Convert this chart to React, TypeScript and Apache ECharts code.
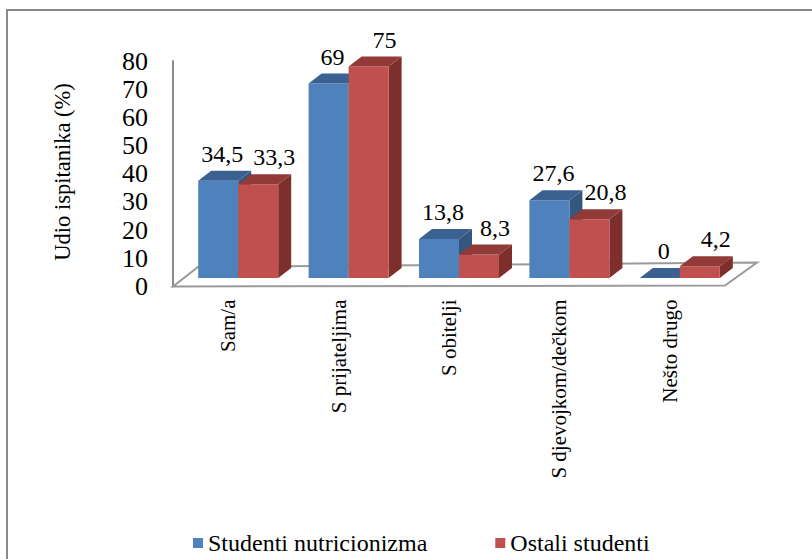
import React, { useEffect, useRef } from "react";
import * as echarts from "echarts";

const categories = ["Sam/a", "S prijateljima", "S obitelji", "S djevojkom/dečkom", "Nešto drugo"];
const nutritionStudents = [34.5, 69, 13.8, 27.6, 0];
const otherStudents = [33.3, 75, 8.3, 20.8, 4.2];
const seriesNames = ["Studenti nutricionizma", "Ostali studenti"];
const yAxisTitle = "Udio ispitanika (%)";
const yMin = 0;
const yMax = 80;
const yInterval = 10;

const FONT = "Liberation Serif";

const palettes = [
  { front: "#4F81BD", top: "#3B6190", side: "#35567F" },
  { front: "#C0504D", top: "#913A38", side: "#7C2F2D" },
];

// 3D projection constants (styling only)
const SHIFT_X = 10;
const SHIFT_Y = -8.5;
const DEPTH_X = 13;
const DEPTH_Y = -10;
const BAR_W = 40;
const LABEL_DX = [4, 16];
const LABEL_DY = -27;

function fmt(v: number) {
  return String(v).replace(".", ",");
}

function makeBarRender(sideIdx: number) {
  const pal = palettes[sideIdx];
  return (params: any, api: any) => {
    const idx = api.value(0);
    const val = api.value(1);
    const base = api.coord([idx, 0]);
    const top = api.coord([idx, val]);
    const xl = base[0] + SHIFT_X + (sideIdx === 0 ? -BAR_W : 0);
    const xr = xl + BAR_W;
    const yb = base[1] + SHIFT_Y;
    const yt = top[1] + SHIFT_Y;
    const children: any[] = [];
    children.push({
      type: "polygon",
      shape: {
        points: [
          [xr, yt],
          [xr + DEPTH_X, yt + DEPTH_Y],
          [xr + DEPTH_X, yb + DEPTH_Y],
          [xr, yb],
        ],
      },
      style: { fill: pal.side },
    });
    if (yb - yt > 0.01) {
      children.push({
        type: "rect",
        shape: { x: xl, y: yt, width: BAR_W, height: yb - yt },
        style: { fill: pal.front },
      });
    }
    children.push({
      type: "polygon",
      shape: {
        points: [
          [xl, yt],
          [xl + DEPTH_X, yt + DEPTH_Y],
          [xr + DEPTH_X, yt + DEPTH_Y],
          [xr, yt],
        ],
      },
      style: { fill: pal.top },
    });
    children.push({
      type: "text",
      x: xl + BAR_W / 2 + LABEL_DX[sideIdx],
      y: yt + LABEL_DY,
      style: {
        text: fmt(val),
        fill: "#000",
        fontFamily: FONT,
        fontSize: 24,
        align: "center",
        verticalAlign: "middle",
      },
    });
    return { type: "group", children };
  };
}

function floorRender(params: any, api: any) {
  const band = api.size([1, 0])[0];
  const c0 = api.coord([0, 0]);
  const cN = api.coord([categories.length - 1, 0]);
  const fl = [c0[0] - band / 2, c0[1]];
  const fr = [cN[0] + band / 2, cN[1] - 1];
  const bl = [fl[0] + 25, fl[1] - 19.5];
  const br = [fr[0] + 32, fr[1] - 23];
  return {
    type: "polygon",
    shape: { points: [fl, fr, br, bl] },
    style: { fill: "#fff", stroke: "#9a9a9a", lineWidth: 2 },
  };
}

export default function App() {
  const ref = useRef<HTMLDivElement>(null);
  useEffect(() => {
    if (!ref.current) return;
    const chart = echarts.init(ref.current, null, { renderer: "svg" });
    const option: any = {
      animation: false,
      backgroundColor: "#fff",
      textStyle: { fontFamily: FONT },
      grid: { left: 173, top: 61, width: 552, height: 225.5, containLabel: false },
      legend: {
        data: seriesNames,
        left: 188,
        top: 526,
        icon: "rect",
        itemWidth: 10,
        itemHeight: 10,
        itemGap: 68,
        textStyle: { fontFamily: FONT, fontSize: 24, color: "#000" },
      },
      xAxis: {
        type: "category",
        data: categories,
        boundaryGap: true,
        axisLine: { show: false },
        axisTick: { show: false },
        axisLabel: {
          rotate: 90,
          margin: 13,
          fontFamily: FONT,
          fontSize: 21,
          color: "#000",
          interval: 0,
        },
      },
      yAxis: {
        type: "value",
        min: yMin,
        max: yMax,
        interval: yInterval,
        splitLine: { show: false },
        axisTick: { show: false },
        axisLine: { show: true, lineStyle: { color: "#8c8c8c", width: 2 } },
        axisLabel: { fontFamily: FONT, fontSize: 26, color: "#000", margin: 25 },
      },
      graphic: [
        {
          type: "rect",
          shape: { x: 7, y: 10, width: 900, height: 700 },
          style: { fill: "none", stroke: "#8a8a8a", lineWidth: 2 },
          silent: true,
        },
        {
          type: "text",
          x: 62.5,
          y: 172,
          rotation: Math.PI / 2,
          style: {
            text: yAxisTitle,
            fontFamily: FONT,
            fontSize: 22.5,
            fill: "#000",
            align: "center",
            verticalAlign: "middle",
          },
        },
      ],
      series: [
        {
          type: "custom",
          name: "floor",
          silent: true,
          z: 1,
          renderItem: floorRender,
          data: [[0, 0]],
          encode: { x: 0, y: 1 },
        },
        {
          type: "custom",
          name: seriesNames[0],
          z: 2,
          itemStyle: { color: palettes[0].front },
          renderItem: makeBarRender(0),
          data: nutritionStudents.map((v, i) => [i, v]),
          encode: { x: 0, y: 1 },
        },
        {
          type: "custom",
          name: seriesNames[1],
          z: 3,
          itemStyle: { color: palettes[1].front },
          renderItem: makeBarRender(1),
          data: otherStudents.map((v, i) => [i, v]),
          encode: { x: 0, y: 1 },
        },
      ],
    };
    chart.setOption(option);
    return () => chart.dispose();
  }, []);
  return (
    <div
      ref={ref}
      style={{ position: "fixed", left: 0, top: 0, width: 812, height: 559, background: "#fff" }}
    />
  );
}
